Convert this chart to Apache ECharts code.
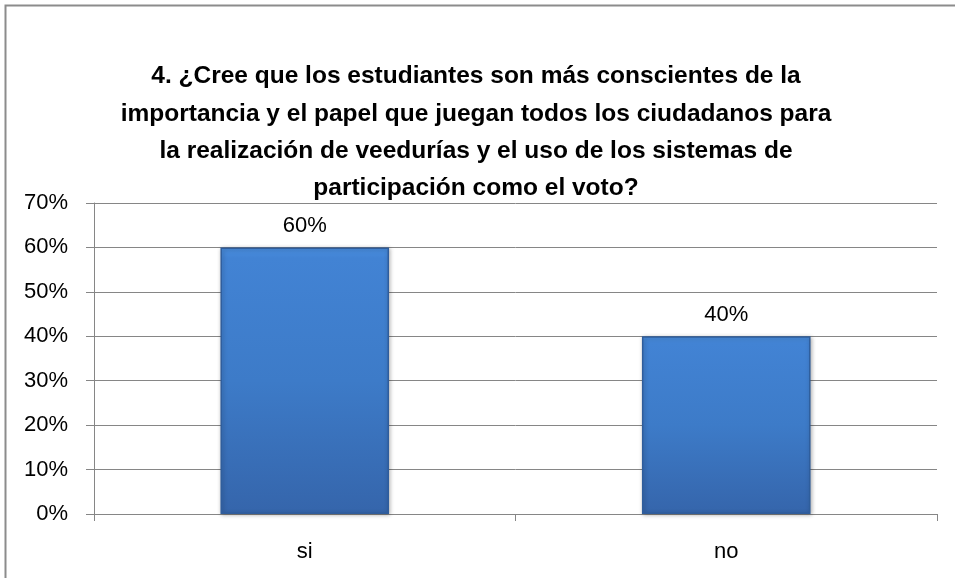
<!DOCTYPE html>
<html>
<head>
<meta charset="utf-8">
<script src="https://cdn.jsdelivr.net/npm/echarts@6/dist/echarts.min.js"></script>
<style>html,body{margin:0;padding:0;background:#fff;}#c{width:955px;height:578px;}</style>
</head>
<body>
<div id="c"></div>
<script>
const titleText = "4. ¿Cree que los estudiantes son más conscientes de la\nimportancia y el papel que juegan todos los ciudadanos para\nla realización de veedurías y el uso de los sistemas de\nparticipación como el voto?";
const categories = ["si", "no"];
const values = [60, 40];
const yMin = 0, yMax = 70, yStep = 10;

const chart = echarts.init(document.getElementById('c'), null, {renderer: 'canvas'});
const font = "'Liberation Sans', Arial, sans-serif";
chart.setOption({
  backgroundColor: '#fff',
  animation: false,
  graphic: [{
    type: 'rect',
    shape: {x: 5.5, y: 5.5, width: 1200, height: 1200},
    style: {fill: null, stroke: '#8c8c8c', lineWidth: 2},
    silent: true, z: 100
  }, {
    type: 'text',
    x: 476, y: 58,
    silent: true,
    style: {
      text: titleText,
      align: 'center',
      verticalAlign: 'top',
      fontFamily: font, fontWeight: 'bold', fontSize: 24.5, lineHeight: 37.3, fill: '#000'
    }
  }],
  grid: {left: 94, right: 18, top: 203, bottom: 64, outerBoundsMode: 'none', containLabel: false},
  xAxis: {
    type: 'category',
    data: categories,
    axisLine: {lineStyle: {color: '#868686', width: 1}},
    axisTick: {show: true, length: 7, lineStyle: {color: '#868686'}},
    axisLabel: {fontFamily: font, fontSize: 22, color: '#000', margin: 27}
  },
  yAxis: {
    type: 'value',
    min: yMin, max: yMax, interval: yStep,
    axisLine: {show: true, lineStyle: {color: '#868686', width: 1}},
    axisTick: {show: true, length: 8, lineStyle: {color: '#868686'}},
    splitLine: {show: true, lineStyle: {color: '#868686', width: 1}},
    axisLabel: {fontFamily: font, fontSize: 22, color: '#000', margin: 26, formatter: '{value}%'}
  },
  series: [{
    type: 'bar',
    data: values,
    barWidth: '40%',
    itemStyle: {
      color: new echarts.graphic.LinearGradient(0, 0, 0, 1, [
        {offset: 0, color: '#4a8fe0'},
        {offset: 0.04, color: '#4283d4'},
        {offset: 0.5, color: '#3d7bc8'},
        {offset: 1, color: '#3565ab'}
      ]),
      borderColor: '#2f5d9c',
      borderWidth: 1.5,
      shadowColor: 'rgba(0,0,0,0.3)',
      shadowBlur: 4,
      shadowOffsetX: 1,
      shadowOffsetY: 1
    },
    label: {
      show: true, position: 'top', distance: 10,
      formatter: '{c}%',
      fontFamily: font, fontSize: 22, color: '#000'
    }
  }]
});
</script>
</body>
</html>
